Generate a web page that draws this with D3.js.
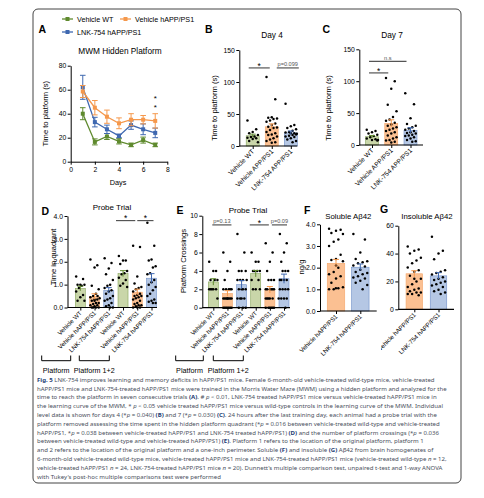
<!DOCTYPE html>
<html>
<head>
<meta charset="utf-8">
<script src="https://cdn.jsdelivr.net/npm/d3@7"></script>
<style>
  body { margin: 0; background: #fff; }
  svg { display: block; font-family: "Liberation Sans", Arial, sans-serif; }
</style>
</head>
<body>
<svg id="fig" width="484" height="498"></svg>
<script>
// ---- data ----
var days = [1, 2, 3, 4, 5, 6, 7];
var mwmWT = [40, 16.5, 21, 17, 14, 18, 14];
var mwmWTerr = [5, 2.5, 2.5, 2.2, 1.5, 2.5, 1.5];
var mwmAPP = [58.5, 45, 37.5, 32, 35, 35, 34];
var mwmAPPerr = [5, 6, 5.5, 4.5, 5, 3.5, 6];
var mwmLNK = [62, 33, 27, 21.5, 30.5, 27, 24];
var mwmLNKerr = [10, 4, 3.5, 1.5, 3.5, 4.5, 4];

var groupsBC = ["Vehicle WT", "Vehicle APP/PS1", "LNK-754 APP/PS1"];
var groupsDE = ["Vehicle WT", "Vehicle hAPP/PS1", "LNK-754 hAPP/PS1",
                "Vehicle WT", "Vehicle hAPP/PS1", "LNK-754 hAPP/PS1"];
var groupsFG = ["Vehicle hAPP/PS1", "LNK-754 hAPP/PS1"];

var day4Mean = [16, 30, 20.5];
var day4Err = [2.5, 4.5, 3];
var day4Dots = [
  [40, 26, 22, 20, 17, 15, 14, 13, 12, 11, 8, 6],
  [108, 73, 45, 44, 43, 42, 40, 38, 35, 33, 30, 29, 28, 25, 22, 20, 18, 17, 15, 12, 10, 8, 6, 5],
  [66, 33, 31, 28, 26, 24, 22, 21, 20, 20, 19, 18, 17, 16, 15, 14, 12, 10, 8, 6]
];
var day7Mean = [13, 34, 23];
var day7Err = [1.8, 5.5, 4];
var day7Dots = [
  [24, 22, 20, 18, 16, 14, 12, 10, 9, 8, 8, 7],
  [105, 100, 88, 63, 53, 44, 40, 38, 35, 32, 30, 28, 26, 24, 22, 20, 18, 15, 12, 10, 8, 7, 5, 4],
  [81, 64, 42, 33, 30, 28, 26, 24, 22, 20, 19, 18, 16, 15, 14, 12, 10, 8, 6, 5]
];
var quadMean = [0.83, 0.48, 0.75, 1.48, 0.67, 1.28];
var quadErr = [0.1, 0.12, 0.12, 0.13, 0.13, 0.2];
var quadDots = [
  [1.35, 1.25, 1.0, 1.0, 1.0, 0.95, 0.85, 0.7, 0.55, 0.45, 0.3, 0.3],
  [2.1, 1.85, 1.75, 0.95, 0.8, 0.6, 0.5, 0.45, 0.35, 0.35, 0.3, 0.2, 0.2, 0.15, 0.1, 0.1, 0.05, 0, 0, 0, 0, 0.5, 0.4, 0.3],
  [2.15, 1.95, 1.7, 1.45, 1.2, 1.0, 0.95, 0.85, 0.75, 0.7, 0.6, 0.5, 0.4, 0.35, 0.3, 0.2, 0.1, 0.05, 0, 0],
  [2.25, 2.05, 2.05, 1.9, 1.6, 1.5, 1.45, 1.3, 1.2, 1.05, 0.95, 0.9],
  [2.7, 2.65, 1.35, 1.05, 0.9, 0.85, 0.8, 0.7, 0.6, 0.55, 0.5, 0.5, 0.45, 0.4, 0.35, 0.3, 0.2, 0.15, 0.1, 0.1, 0.05, 0, 0, 0],
  [3.7, 2.7, 2.1, 2.05, 1.8, 1.75, 1.5, 1.45, 1.2, 1.1, 1.0, 0.9, 0.75, 0.6, 0.5, 0.35, 0.3, 0.25, 0.2, 0.2]
];
var crossMean = [2.8, 1.55, 2.5, 3.7, 1.95, 3.15];
var crossErr = [0.35, 0.3, 0.45, 0.35, 0.35, 0.5];
var crossDots = [
  [5, 4, 4, 3, 3, 3, 2, 2, 2, 2, 2, 1],
  [6, 5, 4, 3, 2, 2, 2, 2, 2, 1, 1, 1, 1, 1, 1, 1, 1, 0, 0, 0, 0, 0, 0, 0],
  [8, 6, 4, 4, 4, 3, 3, 3, 3, 2, 2, 2, 2, 1, 1, 1, 1, 0, 0, 0],
  [6, 5, 5, 4, 4, 4, 4, 3, 3, 2, 2, 2],
  [7, 6, 5, 4, 3, 3, 3, 2, 2, 2, 2, 2, 2, 1, 1, 1, 1, 1, 0, 0, 0, 0, 0, 0],
  [8, 7, 6, 5, 4, 4, 4, 3, 3, 3, 3, 2, 2, 2, 2, 1, 1, 1, 1, 0]
];
var solMean = [2.2, 2.02];
var solErr = [0.18, 0.15];
var solDots = [
  [3.8, 3.75, 3.7, 3.6, 3.55, 3.3, 3.2, 3.0, 2.6, 2.4, 2.35, 2.3, 2.0, 1.8, 1.7, 1.6, 1.5, 1.3, 1.1, 1.05, 1.0, 1.0, 1.05, 2.1],
  [3.55, 3.3, 2.7, 2.4, 2.3, 2.25, 2.2, 2.1, 2.05, 1.9, 1.8, 1.75, 1.7, 1.6, 1.55, 1.5, 1.4, 1.3, 1.2, 1.0]
];
var insMean = [25.5, 24];
var insErr = [2.2, 2.3];
var insDots = [
  [45, 43, 42, 40, 37, 35, 33, 30, 28, 27, 24, 22, 20, 18, 16, 15, 14, 13, 12, 12, 11, 11, 10, 22],
  [52, 42, 40, 36, 28, 27, 26, 25, 23, 22, 21, 20, 19, 18, 17, 16, 14, 13, 12, 11]
];

var caption = [
  "**Fig. 5** LNK-754 improves learning and memory deficits in hAPP/PS1 mice. Female 6-month-old vehicle-treated wild-type mice, vehicle-treated",
  "hAPP/PS1 mice and LNK-754-treated hAPP/PS1 mice were trained in the Morris Water Maze (MWM) using a hidden platform and analyzed for the",
  "time to reach the platform in seven consecutive trials **(A)**. # _p_ < 0.01, LNK-754 treated hAPP/PS1 mice versus vehicle-treated hAPP/PS1 mice in",
  "the learning curve of the MWM, * _p_ < 0.05 vehicle treated hAPP/PS1 mice versus wild-type controls in the learning curve of the MWM. Individual",
  "level data is shown for days 4 (*_p_ = 0.040) **(B)** and 7 (*_p_ = 0.030) **(C)**. 24 hours after the last training day, each animal had a probe trial with the",
  "platform removed assessing the time spent in the hidden platform quadrant (*_p_ = 0.016 between vehicle-treated wild-type and vehicle-treated",
  "hAPP/PS1, *_p_ = 0.038 between vehicle-treated hAPP/PS1 and LNK-754 treated hAPP/PS1) **(D)** and the number of platform crossings (*_p_ = 0.036",
  "between vehicle-treated wild-type and vehicle-treated hAPP/PS1) **(E)**. Platform 1 refers to the location of the original platform, platform 1",
  "and 2 refers to the location of the original platform and a one-inch perimeter. Soluble **(F)** and insoluble **(G)** Aβ42 from brain homogenates of",
  "6-month-old vehicle-treated wild-type mice, vehicle-treated hAPP/PS1 mice and LNK-754-treated hAPP/PS1 mice (vehicle-treated wild-type _n_ = 12,",
  "vehicle-treated hAPP/PS1 _n_ = 24, LNK-754-treated hAPP/PS1 mice _n_ = 20). Dunnett's multiple comparison test, unpaired t-test and 1-way ANOVA",
  "with Tukey's post-hoc multiple comparisons test were performed"
];

// ---- colours ----
var lineCol = { wt: "#5f8a2e", app: "#f5984c", lnk: "#3f68b0" };
var fillCol = { wt: "#c9d6a9", app: "#fbc092", lnk: "#b5c7e4" };
var edgeCol = { wt: "#86a55a", app: "#f4a66a", lnk: "#6f8fc8" };
function keyOf(name) {
  if (name.indexOf("WT") >= 0) return "wt";
  if (name.indexOf("LNK") >= 0) return "lnk";
  return "app";
}

var svg = d3.select("#fig");
svg.append("rect").attr("width", 484).attr("height", 498).attr("fill", "#fff");
svg.append("rect").attr("x", 33).attr("y", 9).attr("width", 428).attr("height", 474)
  .attr("rx", 5).attr("fill", "none").attr("stroke", "#444").attr("stroke-width", 1);

function styleAxis(g, fs) {
  g.selectAll("path.domain").attr("stroke", "#000").attr("stroke-width", 1);
  g.selectAll(".tick line").attr("stroke", "#000").attr("stroke-width", 1);
  g.selectAll(".tick text").attr("font-size", fs).attr("fill", "#000")
    .attr("font-family", "Liberation Sans, Arial, sans-serif");
}

function letter(t, x, y) {
  svg.append("text").attr("x", x).attr("y", y).attr("font-size", 10.5)
    .attr("font-weight", "bold").text(t);
}

// ---- panel A: learning curve ----
(function() {
  var x = d3.scaleLinear().domain([0, 8]).range([70.7, 167.3]);
  var y = d3.scaleLinear().domain([0, 80]).range([161.7, 65.7]);
  var gx = svg.append("g").attr("transform", "translate(0," + 161.7 + ")")
    .call(d3.axisBottom(x).tickValues([0, 2, 4, 6, 8]).tickSize(3).tickSizeOuter(0).tickPadding(2));
  styleAxis(gx, 6.8);
  var gy = svg.append("g").attr("transform", "translate(70.7,0)")
    .call(d3.axisLeft(y).tickValues([0, 20, 40, 60, 80]).tickSize(3).tickSizeOuter(0).tickPadding(1.5));
  styleAxis(gy, 6.8);

  svg.append("text").attr("x", 118).attr("y", 185).attr("text-anchor", "middle")
    .attr("font-size", 7.3).text("Days");
  svg.append("text").attr("transform", "translate(47.5,113.7) rotate(-90)")
    .attr("text-anchor", "middle").attr("font-size", 7.6).text("Time to platform (s)");
  svg.append("text").attr("x", 120).attr("y", 54).attr("text-anchor", "middle")
    .attr("font-size", 8.3).text("MWM Hidden Platform");

  var series = [
    { k: "wt", v: mwmWT, e: mwmWTerr },
    { k: "lnk", v: mwmLNK, e: mwmLNKerr },
    { k: "app", v: mwmAPP, e: mwmAPPerr }
  ];
  var line = d3.line().x(function(d, i) { return x(days[i]); }).y(function(d) { return y(d); });
  series.forEach(function(s) {
    var g = svg.append("g");
    var c = lineCol[s.k];
    s.v.forEach(function(v, i) {
      var cx = x(days[i]), top = y(v + s.e[i]), bot = y(v - s.e[i]);
      g.append("line").attr("x1", cx).attr("x2", cx).attr("y1", top).attr("y2", bot)
        .attr("stroke", c).attr("stroke-width", 1);
      [top, bot].forEach(function(yy) {
        g.append("line").attr("x1", cx - 2.8).attr("x2", cx + 2.8).attr("y1", yy).attr("y2", yy)
          .attr("stroke", c).attr("stroke-width", 1);
      });
    });
    g.append("path").attr("d", line(s.v)).attr("fill", "none").attr("stroke", c).attr("stroke-width", 1.3);
    g.selectAll("rect").data(s.v).enter().append("rect")
      .attr("x", function(d, i) { return x(days[i]) - 2; })
      .attr("y", function(d) { return y(d) - 2; })
      .attr("width", 4).attr("height", 4).attr("fill", c);
  });
  [54, 46.5].forEach(function(v) {
    svg.append("text").attr("x", x(7)).attr("y", y(v) + 4.5).attr("text-anchor", "middle")
      .attr("font-size", 8).text("*");
  });

  // legend
  var leg = [
    { k: "wt", t: "Vehicle WT", x: 62, y: 19 },
    { k: "app", t: "Vehicle hAPP/PS1", x: 120, y: 19 },
    { k: "lnk", t: "LNK-754 hAPP/PS1", x: 62, y: 32 }
  ];
  leg.forEach(function(l) {
    svg.append("line").attr("x1", l.x).attr("x2", l.x + 11).attr("y1", l.y).attr("y2", l.y)
      .attr("stroke", lineCol[l.k]).attr("stroke-width", 1.3);
    svg.append("rect").attr("x", l.x + 3.5).attr("y", l.y - 2).attr("width", 4).attr("height", 4)
      .attr("fill", lineCol[l.k]);
    svg.append("text").attr("x", l.x + 15).attr("y", l.y + 2.5).attr("font-size", 7.2).text(l.t);
  });
  letter("A", 38.5, 33);
})();

// ---- dot layout: deterministic swarm inside the bar ----
function swarm(vals, y, half, r) {
  var placed = [];
  return vals.map(function(v, i) {
    var py = y(v);
    var pref = (((i * 5) % 7) - 3) / 3 * half * 0.75;
    var cands = [pref];
    for (var k = 1; k < 14; k++) { cands.push(pref + k * r * 1.9); cands.push(pref - k * r * 1.9); }
    var best = pref;
    for (var j = 0; j < cands.length; j++) {
      var c = cands[j];
      if (Math.abs(c) > half) continue;
      var ok = placed.every(function(p) {
        var dx = p[0] - c, dy = p[1] - py;
        return dx * dx + dy * dy >= 4 * r * r * 0.95;
      });
      if (ok) { best = c; break; }
    }
    placed.push([best, py]);
    return [best, py];
  });
}

// ---- generic scatter-bar panel ----
function barPanel(p) {
  var y = d3.scaleLinear().domain(p.yDomain).range([p.bottom, p.top]);
  var x = d3.scalePoint().domain(d3.range(p.groups.length)).range(p.centers);
  var g = svg.append("g");

  // bars, error bars
  p.means.forEach(function(m, i) {
    var k = keyOf(p.groups[i]), cx = x(i);
    g.append("rect").attr("x", cx - p.barW / 2).attr("y", y(m)).attr("width", p.barW)
      .attr("height", y(0) - y(m)).attr("fill", fillCol[k]).attr("stroke", edgeCol[k]).attr("stroke-width", 0.6);
  });
  // dots
  p.dots.forEach(function(arr, i) {
    var pts = swarm(arr, y, p.barW / 2 + 0.5, 1.25);
    g.selectAll(null).data(pts).enter().append("circle")
      .attr("cx", function(d) { return x(i) + d[0]; })
      .attr("cy", function(d) { return d[1]; })
      .attr("r", 1.25).attr("fill", "#000");
  });
  p.means.forEach(function(m, i) {
    var k = keyOf(p.groups[i]), cx = x(i), c = lineCol[k];
    var top = y(m + p.errs[i]), bot = y(m - p.errs[i]);
    g.append("line").attr("x1", cx).attr("x2", cx).attr("y1", top).attr("y2", bot)
      .attr("stroke", c).attr("stroke-width", 1);
    g.append("line").attr("x1", cx - 3).attr("x2", cx + 3).attr("y1", top).attr("y2", top)
      .attr("stroke", c).attr("stroke-width", 1);
  });

  // axes
  var gy = svg.append("g").attr("transform", "translate(" + p.axisX + ",0)")
    .call(d3.axisLeft(y).tickValues(p.ticks).tickSize(3).tickSizeOuter(0).tickPadding(1.5));
  styleAxis(gy, p.tickFs || 6.8);
  var gx = svg.append("g").attr("transform", "translate(0," + p.bottom + ")")
    .call(d3.axisBottom(x).tickSize(3).tickSizeOuter(0).tickFormat(""));
  gx.select("path.domain").remove();
  styleAxis(gx, 6);
  svg.append("line").attr("x1", p.axisX).attr("x2", p.axisEnd).attr("y1", p.bottom).attr("y2", p.bottom)
    .attr("stroke", "#000").attr("stroke-width", 1.2);

  var lab = svg.append("g");
  if (p.clip) {
    svg.append("clipPath").attr("id", p.clip.id).append("rect")
      .attr("x", p.clip.x).attr("y", 0).attr("width", 484).attr("height", 498);
    lab.attr("clip-path", "url(#" + p.clip.id + ")");
  }
  p.groups.forEach(function(t, i) {
    lab.append("text").attr("transform", "translate(" + (x(i) + 2) + "," + (p.bottom + 6) + ") rotate(-45)")
      .attr("text-anchor", "end").attr("font-size", p.labFs).text(t);
  });

  if (p.ylabel) {
    svg.append("text").attr("transform", "translate(" + p.ylabelX + "," + p.ylabelY + ") rotate(-90)")
      .attr("text-anchor", "middle").attr("font-size", p.ylabelFs || 7.6).text(p.ylabel);
  }
  svg.append("text").attr("x", p.titleX).attr("y", p.titleY).attr("text-anchor", "middle")
    .attr("font-size", p.titleFs || 8).text(p.title);

  (p.sig || []).forEach(function(s) {
    var x1 = x(s.a) + s.d1, x2 = x(s.b) + s.d2, yy = y(s.v);
    svg.append("line").attr("x1", x1).attr("x2", x2).attr("y1", yy).attr("y2", yy)
      .attr("stroke", "#555").attr("stroke-width", 1.2);
    if (s.t === "*") {
      svg.append("text").attr("x", (x1 + x2) / 2).attr("y", yy + 0.8).attr("text-anchor", "middle")
        .attr("font-size", 8.5).text("*");
    } else {
      svg.append("text").attr("x", (x1 + x2) / 2).attr("y", yy - 1.6).attr("text-anchor", "middle")
        .attr("font-size", 5.6).attr("fill", "#555").text(s.t);
    }
  });
  letter(p.letter, p.letterX, p.letterY);
}

barPanel({
  groups: groupsBC, means: day4Mean, errs: day4Err, dots: day4Dots,
  yDomain: [0, 150], ticks: [0, 50, 100, 150], bottom: 146, top: 50,
  centers: [252.7, 290.8], barW: 13, axisX: 239.3, axisEnd: 297.3, labFs: 6.6,
  ylabel: "Time to platform (s)", ylabelX: 217, ylabelY: 108,
  title: "Day 4", titleX: 272, titleY: 38, titleFs: 8.3,
  sig: [{ a: 0, b: 1, v: 122, d1: -4, d2: -2, t: "*" }, { a: 1, b: 2, v: 122, d1: 5, d2: 8, t: "p=0.099" }],
  letter: "B", letterX: 205, letterY: 33
});

barPanel({
  groups: groupsBC, means: day7Mean, errs: day7Err, dots: day7Dots,
  yDomain: [0, 150], ticks: [0, 50, 100, 150], bottom: 145, top: 49.3,
  centers: [372, 410.5], barW: 13, axisX: 359.3, axisEnd: 423, labFs: 6.6,
  ylabel: "Time to platform (s)", ylabelX: 330.5, ylabelY: 108,
  title: "Day 7", titleX: 392, titleY: 38, titleFs: 8.3,
  sig: [{ a: 0, b: 1, v: 113, d1: -3, d2: -3, t: "*" }, { a: 0, b: 2, v: 131, d1: -3, d2: -4, t: "n.s" }],
  letter: "C", letterX: 322.5, letterY: 33
});

barPanel({
  groups: groupsDE, means: quadMean, errs: quadErr, dots: quadDots,
  yDomain: [0, 4], ticks: [0, 1, 2, 3, 4], bottom: 307.5, top: 216,
  centers: [80.3, 151.5], barW: 10, axisX: 67.5, axisEnd: 157, labFs: 6.2,
  ylabel: "Time in quadrant", ylabelX: 55.5, ylabelY: 257,
  title: "Probe Trial", titleX: 112, titleY: 210, titleFs: 8,
  sig: [{ a: 3, b: 4, v: 3.8, d1: -7, d2: -2, t: "*" }, { a: 4, b: 5, v: 3.8, d1: 0, d2: 2, t: "*" }],
  letter: "D", letterX: 41.5, letterY: 214.5
});

barPanel({
  groups: groupsDE, means: crossMean, errs: crossErr, dots: crossDots,
  yDomain: [0, 10], ticks: [0, 2, 4, 6, 8, 10], bottom: 307.7, top: 215.7,
  centers: [213.3, 284], barW: 10, axisX: 202.3, axisEnd: 290, labFs: 6.2,
  ylabel: "Platform Crossings", ylabelX: 185.5, ylabelY: 261,
  title: "Probe Trial", titleX: 248, titleY: 213, titleFs: 8,
  sig: [{ a: 0, b: 1, v: 9, d1: -1, d2: 4, t: "p=0.13" }, { a: 3, b: 4, v: 9, d1: -6, d2: -1, t: "*" },
        { a: 4, b: 5, v: 9, d1: 2, d2: 3, t: "p=0.09" }],
  letter: "E", letterX: 176.5, letterY: 214
});

barPanel({
  groups: groupsFG, means: solMean, errs: solErr, dots: solDots,
  yDomain: [0, 4], ticks: [0, 1, 2, 3, 4], bottom: 311, top: 224.3,
  centers: [336, 360.3], barW: 17.5, axisX: 320, axisEnd: 376.7, labFs: 6.2,
  ylabel: "ng/g", ylabelX: 304, ylabelY: 267,
  title: "Soluble Aβ42", titleX: 348.3, titleY: 218.5, titleFs: 7.8,
  letter: "F", letterX: 304, letterY: 214
});

barPanel({
  groups: groupsFG, means: insMean, errs: insErr, dots: insDots,
  yDomain: [0, 60], ticks: [0, 20, 40, 60], bottom: 309.3, top: 225.7,
  centers: [414.3, 438.5], barW: 16.5, axisX: 398.3, axisEnd: 454, labFs: 6.2,
  title: "Insoluble Aβ42", titleX: 427, titleY: 218.5, titleFs: 7.8,
  clip: { id: "clipG", x: 381 },
  letter: "G", letterX: 380, letterY: 213
});

// platform brackets under D and E
[
  { x1: 41.7, x2: 70.7, t: "Platform" }, { x1: 79.3, x2: 109.3, t: "Platform 1+2" },
  { x1: 175.7, x2: 203.3, t: "Platform" }, { x1: 213.3, x2: 243.3, t: "Platform 1+2" }
].forEach(function(b) {
  svg.append("path").attr("d", "M" + b.x1 + ",355.5V360.7H" + b.x2 + "V355.5")
    .attr("fill", "none").attr("stroke", "#000").attr("stroke-width", 1);
  svg.append("text").attr("x", (b.x1 + b.x2) / 2).attr("y", 372.5).attr("text-anchor", "middle")
    .attr("font-size", 7.2).text(b.t);
});

// ---- caption ----
(function() {
  var cap = svg.append("g").attr("font-family", "Noto Sans, Open Sans, sans-serif").attr("fill", "#4a4f5c");
  var texts = caption.map(function(line, i) {
    var t = cap.append("text").attr("x", 37).attr("y", 381.8 + i * 8.8).attr("font-size", 10);
    line.split(/(\*\*[^*]+\*\*|_[^_]+_)/).forEach(function(seg) {
      if (!seg) return;
      var ts = t.append("tspan");
      if (seg.indexOf("**") === 0) {
        ts.text(seg.slice(2, -2)).attr("font-weight", "bold").attr("fill", "#1c3c72");
      } else if (seg[0] === "_") {
        ts.text(seg.slice(1, -1)).attr("font-style", "italic");
      } else {
        ts.text(seg);
      }
    });
    return t;
  });
  var ref = texts[1].node().getComputedTextLength();
  var fs = 10 * 410 / ref;
  texts.forEach(function(t) { t.attr("font-size", fs); });
})();
</script>
</body>
</html>
